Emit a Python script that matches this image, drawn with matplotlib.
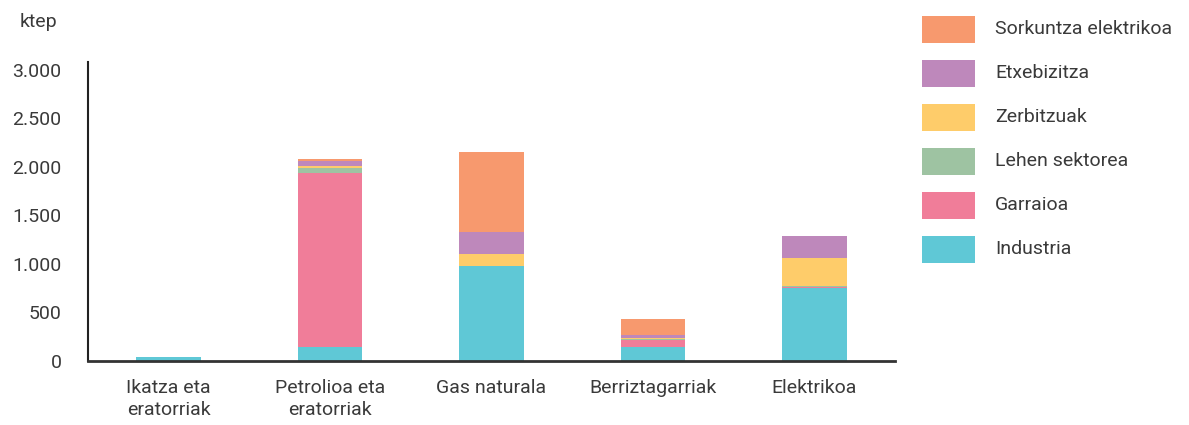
import numpy as np
import matplotlib
matplotlib.use("Agg")
import matplotlib.pyplot as plt
import matplotlib.patches as patches
from matplotlib.ticker import FuncFormatter

plt.rcParams['font.family'] = ['Roboto', 'DejaVu Sans']

# Data (ktep)
categories = ["Ikatza eta\neratorriak", "Petrolioa eta\neratorriak", "Gas naturala",
              "Berriztagarriak", "Elektrikoa"]
series = ["Industria", "Garraioa", "Lehen sektorea", "Zerbitzuak", "Etxebizitza",
          "Sorkuntza elektrikoa"]
industria = [40, 145, 980, 148, 750]
garraioa = [0, 1795, 0, 68, 16]
lehen = [0, 50, 0, 10, 8]
zerbitzuak = [0, 20, 125, 12, 290]
etxebizitza = [0, 55, 228, 30, 225]
sorkuntza = [0, 17, 818, 168, 0]
values = [industria, garraioa, lehen, zerbitzuak, etxebizitza, sorkuntza]
colors = ["#5FC8D6", "#F07D99", "#9EC3A2", "#FECC6A", "#BE88BB", "#F7996E"]

W, H = 1189, 425
fs = 14
txt = "#3a3a3a"
fig = plt.figure(figsize=(W / 100, H / 100), dpi=100)
ax = fig.add_axes([88 / W, 64 / H, (895 - 88) / W, (362 - 63) / H])

x = np.arange(len(categories))
bottom = np.zeros(len(categories))
for vals, col in zip(values, colors):
    ax.bar(x, vals, 0.4, bottom=bottom, color=col, linewidth=0)
    bottom += np.array(vals)

ax.set_xlim(-0.5, len(categories) - 0.5)
ax.set_ylim(0, 3080)
ax.set_yticks(np.arange(0, 3001, 500))
ax.yaxis.set_major_formatter(FuncFormatter(lambda v, p: f"{int(v):,}".replace(",", ".")))
ax.set_xticks(x)
ax.set_xticklabels(categories, fontsize=fs, color=txt, linespacing=1.3)
ax.tick_params(axis="both", length=0, labelsize=fs, colors=txt)
ax.tick_params(axis="y", pad=19)
ax.tick_params(axis="x", pad=13)
for s in ["top", "right"]:
    ax.spines[s].set_visible(False)
ax.spines["left"].set_color("#222222")
ax.spines["left"].set_linewidth(1.5)
ax.spines["bottom"].set_color("#333333")
ax.spines["bottom"].set_linewidth(2)

fig.text(20 / W, 1 - 22 / H, "ktep", fontsize=fs, color=txt, va="center", ha="left")

# legend, top to bottom
for i, (name, col) in enumerate(zip(series[::-1], colors[::-1])):
    yc = 29.5 + 44 * i
    fig.add_artist(patches.Rectangle((922 / W, 1 - (yc + 13.5) / H), 53 / W, 27 / H,
                                     color=col, transform=fig.transFigure, linewidth=0))
    fig.text(995 / W, 1 - yc / H, name, fontsize=fs, color=txt, va="center", ha="left")

plt.savefig("out.png", dpi=100)
